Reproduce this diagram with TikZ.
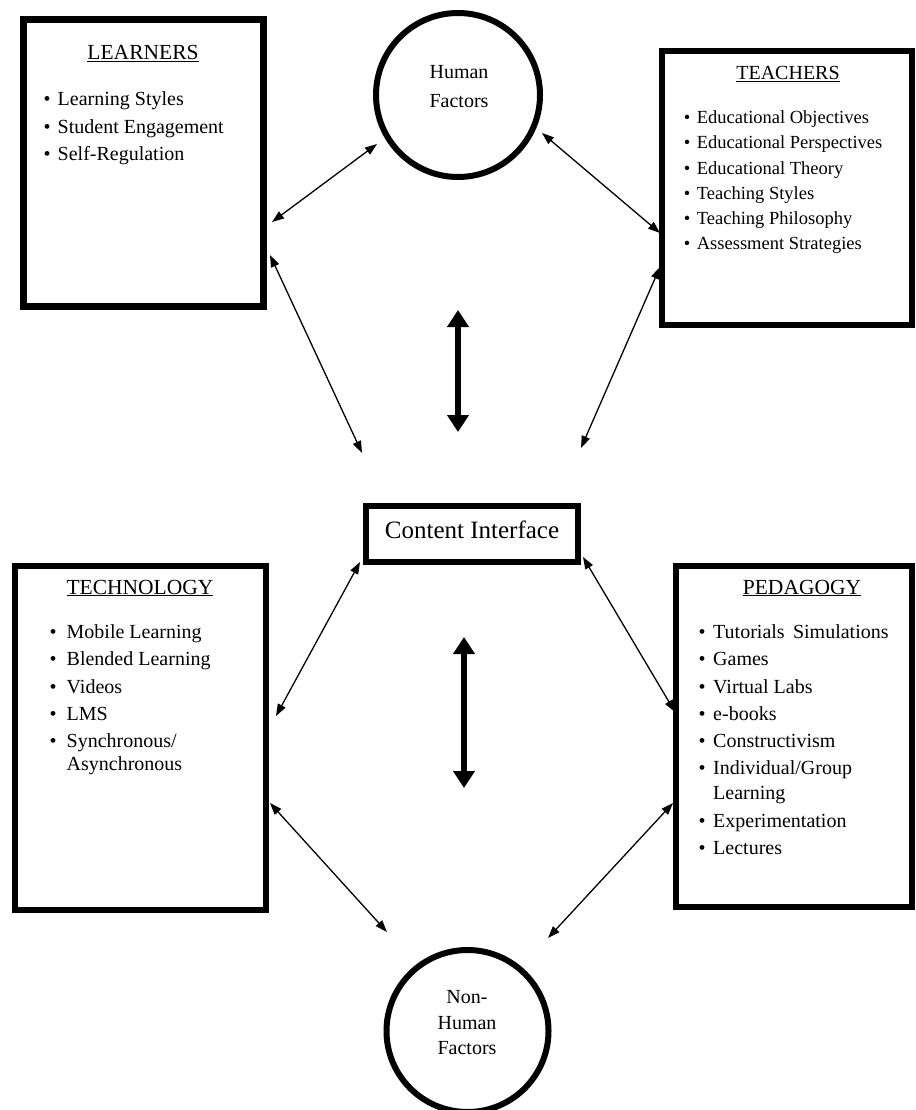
\documentclass[tikz,border=0pt]{standalone}
\usepackage{fontspec}
\setmainfont{Liberation Serif}
\usetikzlibrary{arrows.meta}
\begin{document}
\begin{tikzpicture}[x=1pt,y=-1pt,
  box/.style={draw, line width=6.5pt, inner sep=0pt},
  ring/.style={draw, circle, line width=6pt, inner sep=0pt},
  ttl/.style={anchor=base, inner sep=0pt, font=\fontsize{21.5}{26}\selectfont},
  lst/.style={anchor=north west, inner sep=0pt, align=left},
  thin/.style={line width=1.3pt, {Triangle[length=12pt,width=8.5pt]}-{Triangle[length=12pt,width=8.5pt]}},
  thick/.style={line width=5.5pt, {Triangle[length=17pt,width=21pt]}-{Triangle[length=17pt,width=21pt]}}]
\useasboundingbox[fill=white] (0,0) rectangle (915,1110);

% boxes
\node[box, minimum width=240.4pt, minimum height=287.4pt] (learners) at (143.5,163) {};
\node[box, minimum width=250pt, minimum height=274pt] (teachers) at (787,188) {};
\node[box, minimum width=251pt, minimum height=344pt] (technology) at (140.5,738) {};
\node[box, minimum width=236pt, minimum height=341pt] (pedagogy) at (794,736.5) {};
\node[box, minimum width=212pt, minimum height=56pt, text height=17pt, text depth=8pt,
  font=\fontsize{25}{30}\selectfont] (ci) at (472,534) {Content Interface};

% circles
\node[ring, minimum size=164pt] (hf) at (458,95) {};
\node[ring, minimum size=162pt] (nh) at (467.5,1031) {};
\node[anchor=north, inner sep=0pt, align=center, font=\fontsize{20}{29}\selectfont] (hftext) at (459,58.4) {\strut Human\\Factors};
\node[anchor=north, inner sep=0pt, align=center, font=\fontsize{20}{25.5}\selectfont] (nhtext) at (467,985.8) {\strut Non-\\Human\\Factors};

% titles
\node[ttl] (learnersT) at (143,60) {\underline{LEARNERS}};
\node[ttl, font=\fontsize{20}{24}\selectfont] (teachersT) at (788,80) {\underline{TEACHERS}};
\node[ttl] (technologyT) at (140,594) {\underline{TECHNOLOGY}};
\node[ttl] (pedagogyT) at (802,594) {\underline{PEDAGOGY}};

% lists
\node[lst, font=\fontsize{20}{27.5}\selectfont] (learnersL) at (43.5,86.25)
 {\strut\textbullet\hspace{7pt}Learning Styles\\
  \textbullet\hspace{7pt}Student Engagement\\
  \textbullet\hspace{7pt}Self-Regulation};
\node[lst, font=\fontsize{18.5}{25.3}\selectfont] (teachersL) at (683.7,105.5)
 {\strut\textbullet\hspace{6.5pt}Educational Objectives\\
  \textbullet\hspace{6.5pt}Educational Perspectives\\
  \textbullet\hspace{6.5pt}Educational Theory\\
  \textbullet\hspace{6.5pt}Teaching Styles\\
  \textbullet\hspace{6.5pt}Teaching Philosophy\\
  \textbullet\hspace{6.5pt}Assessment Strategies};
\node[lst, font=\fontsize{20}{27.2}\selectfont] (technologyL) at (49.5,619.5)
 {\strut\textbullet\hspace{10pt}Mobile Learning\\
  \textbullet\hspace{10pt}Blended Learning\\
  \textbullet\hspace{10pt}Videos\\
  \textbullet\hspace{10pt}LMS\\
  \textbullet\hspace{10pt}Synchronous/\\[-4pt]
  \phantom{\textbullet}\hspace{10pt}Asynchronous};
\node[lst, font=\fontsize{20}{27.2}\selectfont] (pedagogyL) at (698.5,619.5)
 {\strut\textbullet\hspace{7.5pt}Tutorials\, Simulations\\
  \textbullet\hspace{7.5pt}Games\\
  \textbullet\hspace{7.5pt}Virtual Labs\\
  \textbullet\hspace{7.5pt}e-books\\
  \textbullet\hspace{7.5pt}Constructivism\\
  \textbullet\hspace{7.5pt}Individual/Group\\[-2pt]
  \phantom{\textbullet}\hspace{7.5pt}Learning\\
  \textbullet\hspace{7.5pt}Experimentation\\
  \textbullet\hspace{7.5pt}Lectures};

% free ends
\coordinate (citl) at (362,453);
\coordinate (citr) at (581,448);
\coordinate (t1a) at (458,310);
\coordinate (t1b) at (458,432);
\coordinate (t2a) at (464,637);
\coordinate (t2b) at (464,788);

% connectors
\draw[thin] ([shift={(128.5,59)}]learners.center) -- ([shift={(-81,49)}]hf.center);
\draw[thin] ([shift={(126.5,92)}]learners.center) -- (citl);
\draw[thin] ([shift={(84,38)}]hf.center) -- ([shift={(-127,45)}]teachers.center);
\draw[thin] ([shift={(-127,79)}]teachers.center) -- (citr);
\draw[thin] ([shift={(-112,28)}]ci.center) -- ([shift={(135.5,-22)}]technology.center);
\draw[thin] ([shift={(129.5,65)}]technology.center) -- ([shift={(-80.5,-99)}]nh.center);
\draw[thin] ([shift={(111,23)}]ci.center) -- ([shift={(-119,-24.5)}]pedagogy.center);
\draw[thin] ([shift={(-121,66.5)}]pedagogy.center) -- ([shift={(80.5,-93)}]nh.center);
\draw[thick] (t1a) -- (t1b);
\draw[thick] (t2a) -- (t2b);
\end{tikzpicture}
\end{document}
